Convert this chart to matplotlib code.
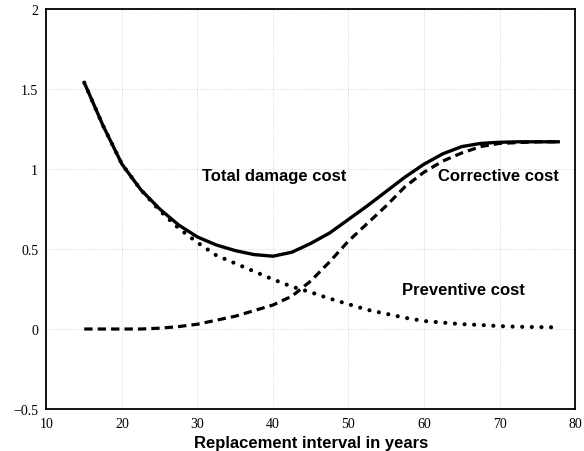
import matplotlib
matplotlib.use("Agg")
import matplotlib.pyplot as plt

# Replacement interval (years)
years = [15, 17.5, 20, 22.5, 25, 27.5, 30, 32.5, 35, 37.5, 40, 42.5, 45,
         47.5, 50, 52.5, 55, 57.5, 60, 62.5, 65, 67.5, 70, 72.5, 75, 78]

total_cost = [1.54, 1.27, 1.03, 0.87, 0.75, 0.65, 0.575, 0.525, 0.49, 0.465,
              0.455, 0.48, 0.535, 0.60, 0.685, 0.77, 0.86, 0.95, 1.03, 1.095,
              1.14, 1.16, 1.167, 1.17, 1.17, 1.17]

corrective_cost = [0.0, 0.0, 0.0, 0.0, 0.005, 0.015, 0.03, 0.055, 0.08, 0.115,
                   0.15, 0.205, 0.30, 0.42, 0.55, 0.66, 0.77, 0.89, 0.98, 1.05,
                   1.10, 1.14, 1.16, 1.165, 1.17, 1.17]

preventive_cost = [1.54, 1.27, 1.03, 0.87, 0.74, 0.63, 0.54, 0.46, 0.41, 0.36,
                   0.31, 0.265, 0.23, 0.19, 0.155, 0.12, 0.095, 0.07, 0.05,
                   0.04, 0.03, 0.025, 0.018, 0.014, 0.012, 0.01]

x_ticks = [10, 20, 30, 40, 50, 60, 70, 80]
y_ticks = [-0.5, 0, 0.5, 1, 1.5, 2]
y_tick_labels = ["\u22120.5", "0", "0.5", "1", "1.5", "2"]

fig = plt.figure(figsize=(5.84, 4.52), dpi=100)
ax = fig.add_axes([0.0796, 0.0929, 0.905, 0.885])

ax.plot(years, preventive_cost, color="black", linewidth=3.0,
        linestyle=(0, (0.01, 2.3)), dash_capstyle="round", zorder=3)
ax.plot(years, corrective_cost, color="black", linewidth=2.3,
        linestyle=(0, (2.6, 1.6)), zorder=3)
ax.plot(years, total_cost, color="black", linewidth=2.4,
        solid_capstyle="butt", zorder=4)

label_font = dict(family=["Liberation Sans", "DejaVu Sans"], weight="bold",
                  fontsize=12, ha="center", va="center")
ax.text(40.1, 0.96, "Total damage cost", **label_font)
ax.text(69.8, 0.96, "Corrective cost", **label_font)
ax.text(65.2, 0.25, "Preventive cost", **label_font)

ax.set_xlim(10, 80)
ax.set_ylim(-0.5, 2)
ax.set_xticks(x_ticks)
ax.set_yticks(y_ticks)
ax.set_yticklabels(y_tick_labels)
ax.tick_params(length=0, pad=6, labelsize=10)
for lbl in ax.get_xticklabels() + ax.get_yticklabels():
    lbl.set_fontfamily(["Liberation Serif", "DejaVu Serif"])

ax.grid(True, color="#d6d6d6", linestyle=(0, (1, 1.5)), linewidth=0.7)
ax.set_axisbelow(True)
for spine in ax.spines.values():
    spine.set_linewidth(1.3)
    spine.set_color("black")

ax.set_xlabel("Replacement interval in years",
              fontfamily=["Liberation Sans", "DejaVu Sans"],
              fontweight="bold", fontsize=12, labelpad=3)

fig.savefig("out.png", dpi=100, facecolor="white")
